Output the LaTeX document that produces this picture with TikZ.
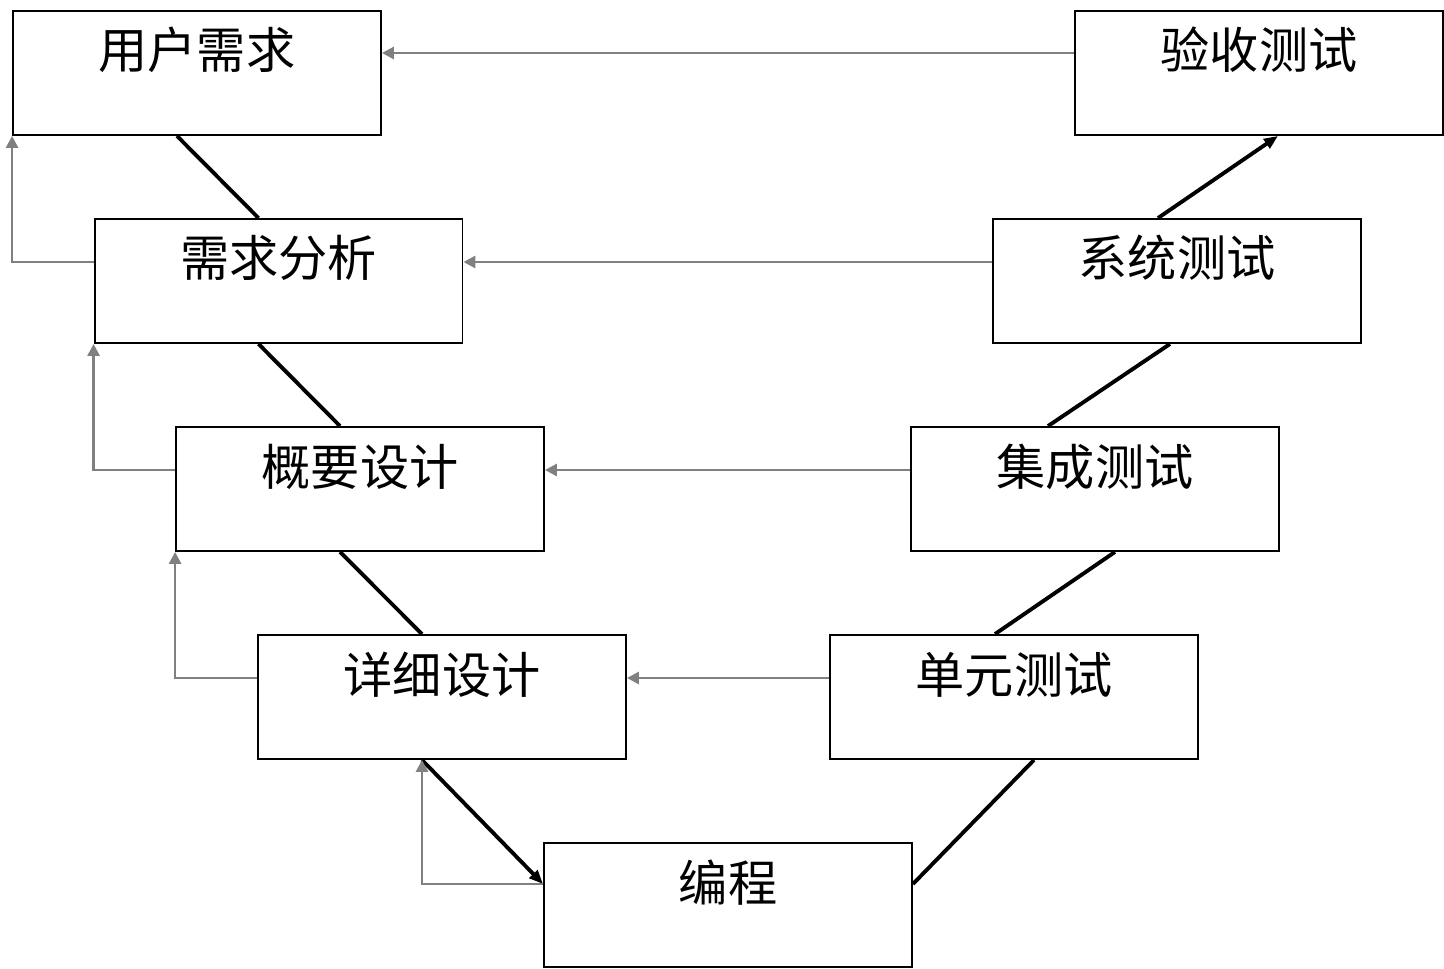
\documentclass[tikz,border=0pt]{standalone}
\usepackage{fontspec}
\newfontfamily\cjk{Noto Sans CJK SC}
\usetikzlibrary{arrows.meta}

\begin{document}
\begin{tikzpicture}[
x=0.02cm, y=-0.02cm,
stage/.style={draw, line width=1.1pt, inner sep=0pt, text width=7.36cm, align=center, text height=1.16cm, text depth=1.32cm, font=\cjk\fontsize{28}{30}\selectfont},
flow/.style={line width=2.2pt, black},
flowarrow/.style={flow, -{Triangle[length=2.8mm, width=2.2mm]}},
feedback/.style={-{Triangle[length=2.4mm, width=2.4mm]}, line width=1.6pt, gray}
]
\useasboundingbox (0,0) rectangle (1444,969);
% left branch
\node[stage] (user) at (197,73) {用户需求};
\node[stage] (analysis) at (278.5,281) {需求分析};
\node[stage] (outline) at (360,489) {概要设计};
\node[stage] (detail) at (442,697) {详细设计};
\node[stage] (coding) at (728,905) {编程};
% right branch
\node[stage] (unit) at (1014,697) {单元测试};
\node[stage] (integ) at (1095,489) {集成测试};
\node[stage] (system) at (1177,281) {系统测试};
\node[stage] (accept) at (1259,73) {验收测试};

\draw[flow] ([xshift=-0.4cm]user.south) -- ([xshift=-0.4cm]analysis.north);
\draw[flow] ([xshift=-0.4cm]analysis.south) -- ([xshift=-0.4cm]outline.north);
\draw[flow] ([xshift=-0.4cm]outline.south) -- ([xshift=-0.4cm]detail.north);
\draw[flowarrow] ([xshift=-0.4cm]detail.south) -- ([yshift=0.42cm]coding.west);
\draw[flow] ([yshift=0.42cm]coding.east) -- ([xshift=0.4cm]unit.south);
\draw[flow] ([xshift=-0.38cm]unit.north) -- ([xshift=0.4cm]integ.south);
\draw[flow] ([xshift=-0.94cm]integ.north) -- ([xshift=-0.14cm]system.south);
\draw[flowarrow] ([xshift=-0.38cm]system.north) -- ([xshift=0.38cm]accept.south);

\draw[feedback] ([yshift=0.4cm]accept.west) -- ([yshift=0.4cm]user.east);
\draw[feedback] ([yshift=0.38cm]system.west) -- ([yshift=0.38cm]analysis.east);
\draw[feedback] ([yshift=0.38cm]integ.west) -- ([yshift=0.38cm]outline.east);
\draw[feedback] ([yshift=0.38cm]unit.west) -- ([yshift=0.38cm]detail.east);

\draw[feedback] ([yshift=0.38cm]analysis.west) -| (user.south west);
\draw[feedback] ([yshift=0.38cm]outline.west) -| (analysis.south west);
\draw[feedback] ([yshift=0.38cm]detail.west) -| (outline.south west);
\draw[feedback] ([yshift=0.42cm]coding.west) -| ([xshift=-0.4cm]detail.south);
\end{tikzpicture}
\end{document}
